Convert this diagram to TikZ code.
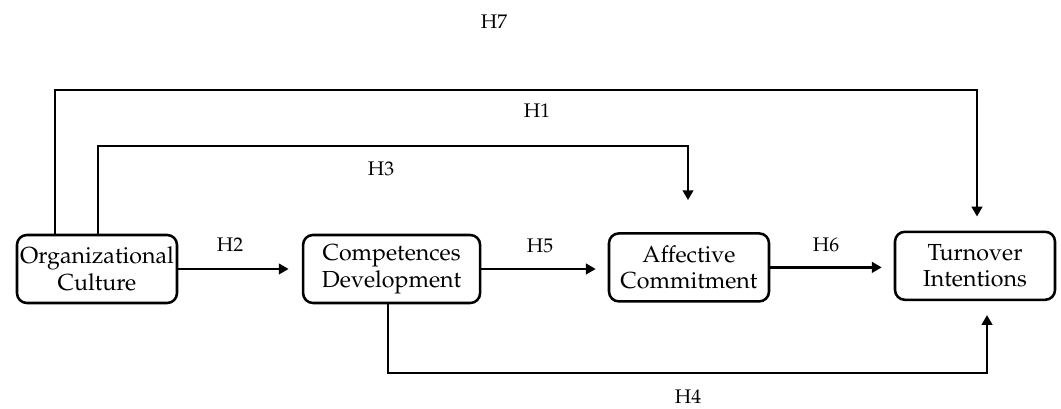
\documentclass[tikz,border=0pt]{standalone}
\usepackage[T1]{fontenc}
\usepackage{mathpazo}
\usetikzlibrary{arrows.meta, positioning}
\tikzset{
    box/.style={draw, line width=1.8pt, rounded corners=7pt, minimum width=4cm,
        minimum height=1.7cm, align=center, inner sep=1pt,
        font=\fontsize{16.5}{19}\selectfont},
    link/.style={line width=1.7pt, -{Triangle[length=7pt,width=7.5pt]}},
    hyp/.style={font=\fontsize{14}{16}\selectfont, inner sep=1pt}
}

\begin{document}
\begin{tikzpicture}
    \useasboundingbox (0,0) rectangle (26.525,10.225);
    % constructs
    \node[box] (oc) at (2.425,3.5) {Organizational\\Culture};
    \node[box, minimum width=4.425cm] (cd) at (9.79,3.5) {Competences\\Development};
    \node[box] (ac) at (17.225,3.54) {Affective\\Commitment};
    \node[box] (ti) at (24.375,3.58) {Turnover\\Intentions};
    % corners of the long paths
    \coordinate (h7) at (1.375,7.975);
    \coordinate (h3) at (2.45,6.575);
    \coordinate (h4) at (9.7,0.9);
    % direct paths
    \draw[link, shorten >=0.33cm] (oc.east) -- (oc.east -| cd.west);
    \draw[link, shorten >=0.3cm] (cd.east) -- (cd.east -| ac.west);
    \draw[link, shorten >=0.3cm] (ac.east) -- (ac.east -| ti.west);
    % long paths
    \draw[link, shorten >=0.35cm] (oc.north -| h7) -- (h7) -| ([xshift=0.05cm]ti.north);
    \draw[link, shorten >=0.8cm] (oc.north -| h3) -- (h3) -| ([xshift=-0.025cm]ac.north);
    \draw[link, shorten >=0.35cm] (cd.south -| h4) -- (h4) -| ([xshift=0.3cm]ti.south);
    % labels
    \node[hyp] (l7) at (12.35,9.675) {H7};
    \node[hyp] (l1) at (13.425,7.45) {H1};
    \node[hyp] (l3) at (9.525,6.0) {H3};
    \node[hyp] (l2) at (5.75,4.1) {H2};
    \node[hyp] (l5) at (13.5,4.075) {H5};
    \node[hyp] (l6) at (20.65,4.1) {H6};
    \node[hyp] (l4) at (17.2,0.3) {H4};
\end{tikzpicture}
\end{document}
